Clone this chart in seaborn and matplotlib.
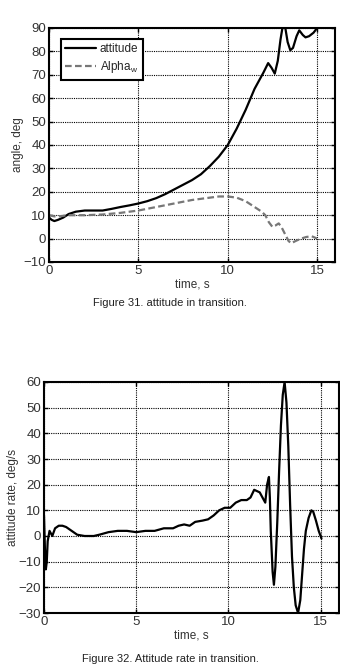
import matplotlib
matplotlib.use("Agg")
import matplotlib.pyplot as plt
import seaborn as sns
import pandas as pd

# ---- Figure 31 data ----
att_t = [0, 0.15, 0.3, 0.5, 0.8, 1.1, 1.5, 2.0, 2.5, 3.0, 3.5, 4.0, 4.5, 5.0, 5.5, 6.0, 6.5, 7.0,
         7.5, 8.0, 8.5, 9.0, 9.5, 10.0, 10.5, 11.0, 11.5, 12.0, 12.26, 12.45, 12.63, 12.8, 12.95,
         13.1, 13.2, 13.35, 13.5, 13.65, 13.85, 14.0, 14.2, 14.35, 14.55, 14.8, 15.0]
att_v = [9, 8, 7.5, 8, 9, 10.5, 11.5, 12, 12, 12, 12.7, 13.5, 14.2, 15, 16, 17.3, 19, 21,
         23, 25, 27.5, 31, 35, 40, 47, 55, 64, 71, 75, 73, 70.5, 76, 85,
         92, 91, 84, 80.5, 81.5, 86.5, 89, 87, 86, 86.5, 88, 90]
alp_t = [0, 0.3, 0.6, 1.0, 1.5, 2.0, 3.0, 4.0, 5.0, 6.0, 7.0, 8.0, 9.0, 9.5, 10.0, 10.5, 11.0,
         11.5, 11.9, 12.1, 12.3, 12.5, 12.65, 12.85, 13.0, 13.2, 13.4, 13.55, 13.8, 14.1, 14.4,
         14.7, 15.0]
alp_v = [10, 9.5, 9.5, 10, 10, 10, 10.3, 11, 12, 13.5, 15, 16.5, 17.5, 18, 18, 17.5, 16,
         13.5, 11.5, 10, 7, 5, 5.5, 6.5, 5, 2, -1, -2, -1, 0, 0.7,
         1, 0]

# ---- Figure 32 data ----
rate_t = [0, 0.05, 0.1, 0.15, 0.2, 0.3, 0.45, 0.6, 0.8, 1.0, 1.2, 1.5, 1.8, 2.2, 2.7, 3.0, 3.5,
          4.0, 4.5, 5.0, 5.5, 6.0, 6.5, 7.0, 7.3, 7.6, 7.9, 8.2, 8.6, 8.9, 9.2, 9.5, 9.8,
          10.1, 10.4, 10.7, 11.0, 11.2, 11.4, 11.7, 12.0, 12.1, 12.2, 12.25, 12.3, 12.4,
          12.47, 12.55, 12.65, 12.75, 12.85, 12.95, 13.05, 13.15, 13.25, 13.35, 13.45, 13.55,
          13.65, 13.78, 13.9, 14.0, 14.1, 14.2, 14.35, 14.5, 14.6, 14.75, 14.9, 15.05]
rate_v = [8, -5, -13, -10, -2, 2, 0, 3, 4, 4, 3.5, 2, 0.5, 0, 0, 0.5, 1.5,
          2, 2, 1.5, 2, 2, 3, 3, 4, 4.5, 4, 5.5, 6, 6.5, 8, 10, 11,
          11, 13, 14, 14, 15, 18, 17, 13, 20, 23, 15, 2, -14,
          -19, -12, 5, 25, 43, 55, 60, 52, 35, 12, -8, -20,
          -27, -30, -25, -15, -5, 2, 7, 10, 9.5, 6, 2, -1]

sns.set_style("white")
plt.rcParams["font.family"] = ["Liberation Sans", "DejaVu Sans"]
plt.rcParams["mathtext.fontset"] = "custom"
plt.rcParams["mathtext.rm"] = "Liberation Sans"
plt.rcParams["mathtext.it"] = "Liberation Sans"

fig = plt.figure(figsize=(3.4, 6.65), dpi=100)
W, H = 340.0, 665.0

def style_axes(ax):
    for s in ax.spines.values():
        s.set_linewidth(1.5)
        s.set_color("black")
    ax.grid(True, color="black", linestyle=(0, (1, 1)), linewidth=0.8)
    ax.tick_params(direction="in", length=3, width=1, labelsize=9.5, colors="black",
                   top=True, right=True, bottom=True, left=True, pad=2)
    for lab in ax.get_xticklabels() + ax.get_yticklabels():
        lab.set_color("#333333")

# Top axes
ax1 = fig.add_axes([49 / W, 1 - 262 / H, (335 - 49) / W, (262 - 28) / H])
df_att = pd.DataFrame({"t": att_t, "v": att_v})
df_alp = pd.DataFrame({"t": alp_t, "v": alp_v})
sns.lineplot(data=df_att, x="t", y="v", ax=ax1, color="black", linewidth=1.6,
             label="attitude", sort=False)
sns.lineplot(data=df_alp, x="t", y="v", ax=ax1, color="#777777", linewidth=1.6,
             linestyle=(0, (3, 1.5)), label="Alpha$_\\mathregular{w}$", sort=False)
ax1.set_xlim(0, 16)
ax1.set_ylim(-10, 90)
ax1.set_xticks([0, 5, 10, 15])
ax1.set_yticks(list(range(-10, 91, 10)))
ax1.set_xlabel("time, s", fontsize=8.5, color="#333333", labelpad=1)
ax1.set_ylabel("angle, deg", fontsize=8.5, color="#333333", labelpad=0)
style_axes(ax1)
leg = ax1.legend(loc="upper left", fontsize=8.5, frameon=True, fancybox=False,
                 borderpad=0.4, handlelength=2.6, handletextpad=0.3,
                 labelspacing=0.3, bbox_to_anchor=(0.02, 0.98))
leg.get_frame().set_edgecolor("black")
leg.get_frame().set_linewidth(1.5)
leg.get_frame().set_alpha(1)

fig.text(170 / W, 1 - 303 / H, "Figure 31. attitude in transition.", ha="center",
         va="center", fontsize=8, color="#222222")

# Bottom axes
ax2 = fig.add_axes([44 / W, 1 - 613 / H, (339 - 44) / W, (613 - 382) / H])
df_rate = pd.DataFrame({"t": rate_t, "v": rate_v})
sns.lineplot(data=df_rate, x="t", y="v", ax=ax2, color="black", linewidth=1.6, sort=False)
ax2.set_xlim(0, 16)
ax2.set_ylim(-30, 60)
ax2.set_xticks([0, 5, 10, 15])
ax2.set_yticks(list(range(-30, 61, 10)))
ax2.set_xlabel("time, s", fontsize=8.5, color="#333333", labelpad=1)
ax2.set_ylabel("attitude rate, deg/s", fontsize=8.5, color="#333333", labelpad=0)
style_axes(ax2)

fig.text(170 / W, 1 - 659 / H, "Figure 32. Attitude rate in transition.", ha="center",
         va="center", fontsize=8, color="#222222")

fig.savefig("out.png", dpi=100)
